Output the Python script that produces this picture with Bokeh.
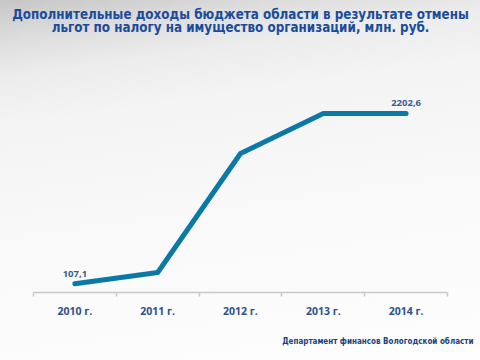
from bokeh.plotting import figure
from bokeh.models import (Range1d, LinearAxis, FixedTicker, Title, LabelSet,
                          ColumnDataSource)
from bokeh.core.properties import value
from bokeh.embed import file_html
from bokeh.resources import INLINE

years = ["2010 г.", "2011 г.", "2012 г.", "2013 г.", "2014 г."]
values = [107.1, 246.0, 1710.0, 2202.6, 2202.6]
value_labels = ["107,1", "", "", "", "2202,6"]
title_line1 = "Дополнительные доходы бюджета области в результате отмены"
title_line2 = "льгот по налогу на имущество организаций, млн. руб."
footer_text = "Департамент финансов Вологодской области"

pos = [i + 0.5 for i in range(len(years))]
src = ColumnDataSource(dict(x=pos, y=values, t=value_labels))

p = figure(width=480, height=360, output_backend="svg", toolbar_location=None,
           x_range=Range1d(0, len(years)), y_range=Range1d(0, 3076),
           x_axis_location=None, y_axis_location=None,
           min_border_left=33, min_border_right=33, min_border_top=42,
           min_border_bottom=68)
p.styles = {"background": "linear-gradient(172deg, #c6c6c6 0%, #dedede 10%, #ececec 18%, #f4f4f4 30%, #f9f9f9 60%, #fefefe 100%)"}
p.border_fill_color = None
p.background_fill_color = None
p.outline_line_color = None
p.grid.visible = False

ax = LinearAxis(ticker=FixedTicker(ticks=pos, minor_ticks=list(range(len(years) + 1))),
                major_label_overrides={x: y for x, y in zip(pos, years)})
ax.axis_line_color = "#c8c8c8"
ax.axis_line_width = 1.5
ax.major_tick_line_color = None
ax.minor_tick_line_color = "#c8c8c8"
ax.minor_tick_line_width = 1.5
ax.minor_tick_out = 4
ax.minor_tick_in = 0
ax.major_label_standoff = 5
ax.major_label_text_font = "Open Sans"
ax.major_label_text_font_style = "bold"
ax.major_label_text_font_size = "10.5px"
ax.major_label_text_color = "#2f5189"
p.add_layout(ax, "below")

p.line(x="x", y="y", source=src, line_width=5, line_color="#0b79a6",
       line_join="round", line_cap="round")

labels = LabelSet(x="x", y="y", text="t", source=src, y_offset=7,
                  text_align="center", text_baseline="bottom",
                  text_font=value("Open Sans"), text_font_style="bold",
                  text_font_size="9.5px", text_color="#3d5b8b")
p.add_layout(labels)

foot = Title(text=footer_text, align="right", text_font="DejaVu Sans Condensed",
             text_font_style="bold", text_font_size="8px", text_color="#1d3f80",
             standoff=29, offset=-26)
p.add_layout(foot, "below")

t2 = Title(text=title_line2, align="center", text_font="DejaVu Sans Condensed",
           text_font_style="bold", text_font_size="13.3px", text_color="#1b4b9b",
           standoff=15)
t1 = Title(text=title_line1, align="center", text_font="DejaVu Sans Condensed",
           text_font_style="bold", text_font_size="13.3px", text_color="#1b4b9b",
           standoff=-23)
p.add_layout(t2, "above")
p.add_layout(t1, "above")

open("out.html", "w").write(file_html(p, INLINE))
